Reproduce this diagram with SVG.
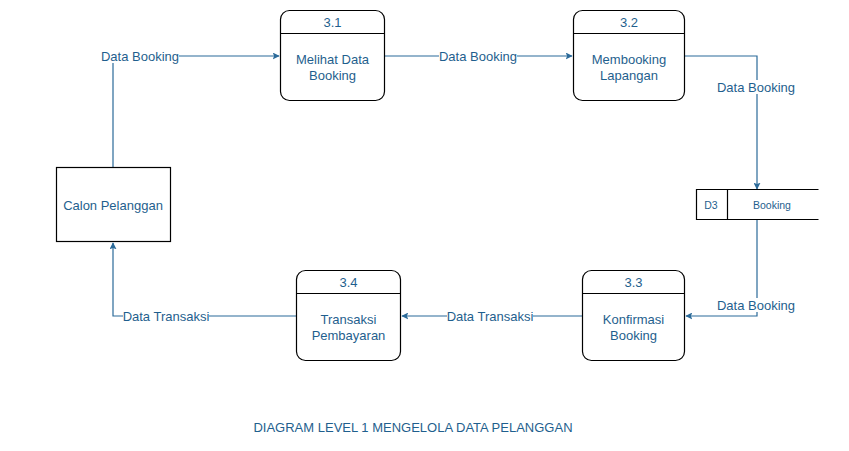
<svg xmlns="http://www.w3.org/2000/svg" width="849" height="451" viewBox="0 0 849 451">
<defs>
<style>
.box{fill:#fff;stroke:#000;stroke-width:1.2}
.ln{fill:none;stroke:#000;stroke-width:1.2}
.e{fill:none;stroke:#2B6A99;stroke-width:1.2}
.bg{fill:#fff}
text{font-family:"Liberation Sans",Arial,sans-serif;font-size:13px;fill:#1F5F8E;text-anchor:middle}
.sm{font-size:10.5px}
</style>
<marker id="ar" viewBox="0 0 10 10" refX="9" refY="5" markerWidth="7" markerHeight="7" markerUnits="userSpaceOnUse" orient="auto">
<path d="M0,0 L10,5 L0,10 L2,5 Z" fill="#2B6A99"/>
</marker>
</defs>
<rect width="849" height="451" fill="#fff"/>
<g id="connectors">
<path class="e" d="M113,167 V56 H279" marker-end="url(#ar)"/>
<path class="e" d="M385,56 H572" marker-end="url(#ar)"/>
<path class="e" d="M685,56 H757 V189" marker-end="url(#ar)"/>
<path class="e" d="M757,220 V316 H686" marker-end="url(#ar)"/>
<path class="e" d="M582,316 H402" marker-end="url(#ar)"/>
<path class="e" d="M296,316 H113 V243" marker-end="url(#ar)"/>
<rect class="bg" x="101" y="49" width="78" height="14"/>
<rect class="bg" x="439" y="49" width="78" height="14"/>
<rect class="bg" x="717" y="80" width="78" height="14"/>
<rect class="bg" x="717" y="298" width="78" height="14"/>
<rect class="bg" x="447" y="309" width="86" height="14"/>
<rect class="bg" x="123" y="309" width="86" height="14"/>
<text x="140" y="60.5">Data Booking</text>
<text x="478" y="60.5">Data Booking</text>
<text x="756" y="91.5">Data Booking</text>
<text x="756" y="309.5">Data Booking</text>
<text x="490" y="320.5">Data Transaksi</text>
<text x="166" y="320.5">Data Transaksi</text>
</g>
<g id="calon">
<rect class="box" x="56.5" y="167.5" width="114" height="74"/>
<text x="113" y="210">Calon Pelanggan</text>
</g>
<g id="p31">
<rect class="box" x="280.5" y="10.5" width="104" height="90" rx="9"/>
<line class="ln" x1="280.5" y1="33.5" x2="384.5" y2="33.5"/>
<text x="332.5" y="26.5">3.1</text>
<text x="332.5" y="63.5">Melihat Data</text>
<text x="332.5" y="79.5">Booking</text>
</g>
<g id="p32">
<rect class="box" x="573.5" y="10.5" width="111" height="90" rx="9"/>
<line class="ln" x1="573.5" y1="33.5" x2="684.5" y2="33.5"/>
<text x="629" y="26.5">3.2</text>
<text x="629" y="63.5">Membooking</text>
<text x="629" y="79.5">Lapangan</text>
</g>
<g id="d3">
<rect x="696.5" y="189.5" width="122" height="30" fill="#fff"/>
<path class="ln" d="M818.5,189.5 H696.5 V219.5 H818.5 M727.5,189.5 V219.5"/>
<text class="sm" x="711" y="209">D3</text>
<text class="sm" x="772" y="209">Booking</text>
</g>
<g id="p33">
<rect class="box" x="582.5" y="270.5" width="102" height="90" rx="9"/>
<line class="ln" x1="582.5" y1="293.5" x2="684.5" y2="293.5"/>
<text x="633.5" y="286.5">3.3</text>
<text x="633.5" y="323.5">Konfirmasi</text>
<text x="633.5" y="339.5">Booking</text>
</g>
<g id="p34">
<rect class="box" x="296.5" y="270.5" width="104" height="90" rx="9"/>
<line class="ln" x1="296.5" y1="293.5" x2="400.5" y2="293.5"/>
<text x="348.5" y="286.5">3.4</text>
<text x="348.5" y="323.5">Transaksi</text>
<text x="348.5" y="339.5">Pembayaran</text>
</g>
<g id="title">
<text x="413" y="432">DIAGRAM LEVEL 1 MENGELOLA DATA PELANGGAN</text>
</g>
</svg>
